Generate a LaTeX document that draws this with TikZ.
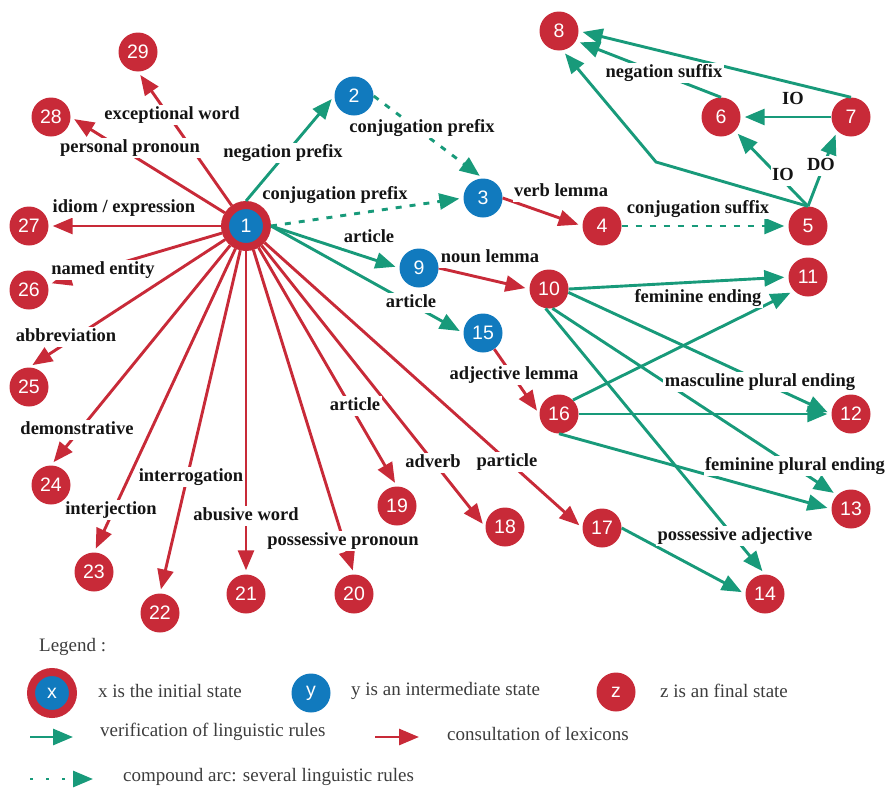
\documentclass[tikz,border=0pt]{standalone}
\usepackage{fontspec}
\setmainfont{Liberation Serif}
\newfontfamily\numfont{Liberation Sans}
\usetikzlibrary{arrows.meta}
\definecolor{cred}{RGB}{200,42,56}
\definecolor{cblue}{RGB}{17,122,190}
\definecolor{cgreen}{RGB}{24,154,122}
\definecolor{ctext}{RGB}{20,20,20}
\definecolor{clegend}{RGB}{60,60,60}
\begin{document}
\begin{tikzpicture}[x=1pt,y=-1pt,
  st/.style={circle, minimum size=39pt, inner sep=0pt, fill=cred, text=white,
             font=\numfont\fontsize{19.5}{19.5}\selectfont},
  inter/.style={st, fill=cblue},
  init/.style={circle, minimum size=42pt, inner sep=0pt, fill=cblue, draw=cred,
               line width=8pt, text=white, font=\numfont\fontsize{19.5}{19.5}\selectfont},
  tipA/.style={-{Triangle[length=20pt,width=16pt]}},
  lex/.style={draw=cred, line width=2.9pt, tipA, shorten >=4pt},
  rule/.style={draw=cgreen, line width=2.9pt, tipA, shorten >=4pt},
  comp/.style={rule, dash pattern=on 6pt off 8pt},
  lbl/.style={fill=white, inner sep=1.5pt, text=ctext, text height=13pt, text depth=4pt,
              font=\bfseries\fontsize{18.5}{22}\selectfont},
  leg/.style={anchor=west, inner sep=0pt, text=clegend, font=\fontsize{19}{22}\selectfont}
]
\useasboundingbox (0,0) rectangle (891,790);

% ---------- states ----------
\node[init]  (n1)  at (246,226) {1};
\node[inter] (n2)  at (354,96)  {2};
\node[inter] (n3)  at (483,198) {3};
\node[st]    (n4)  at (602,226) {4};
\node[st]    (n5)  at (808,226) {5};
\node[st]    (n6)  at (721,117) {6};
\node[st]    (n7)  at (851,117) {7};
\node[st]    (n8)  at (559,31)  {8};
\node[inter] (n9)  at (419,268) {9};
\node[st]    (n10) at (549,289) {10};
\node[st]    (n11) at (808,277) {11};
\node[st]    (n12) at (851,414) {12};
\node[st]    (n13) at (851,509) {13};
\node[st]    (n14) at (765,594) {14};
\node[inter] (n15) at (483,333) {15};
\node[st]    (n16) at (559,414) {16};
\node[st]    (n17) at (602,528) {17};
\node[st]    (n18) at (505,527) {18};
\node[st]    (n19) at (397,506) {19};
\node[st]    (n20) at (354,594) {20};
\node[st]    (n21) at (246,594) {21};
\node[st]    (n22) at (160,613) {22};
\node[st]    (n23) at (94,572)  {23};
\node[st]    (n24) at (51,485)  {24};
\node[st]    (n25) at (29,387)  {25};
\node[st]    (n26) at (29,290)  {26};
\node[st]    (n27) at (29,226)  {27};
\node[st]    (n28) at (51,117)  {28};
\node[st]    (n29) at (138,52)  {29};
\coordinate (b58) at (656,162);

% ---------- lexicon consultations from 1 ----------
\draw[lex] (n1) -- (n29.south);
\draw[lex] (n1) -- (n28.east);
\draw[lex] (n1) -- (n27);
\draw[lex] (n1) -- (n26);
\draw[lex] (n1) -- (n25.north);
\draw[lex] (n1) -- (n24.north);
\draw[lex] (n1) -- (n23.north);
\draw[lex] (n1) -- (n22.north);
\draw[lex] (n1) -- (n21);
\draw[lex] (n1) -- (n20.north);
\draw[lex] (n1) -- (n19.north);
\draw[lex] (n1) -- (n18.west);
\draw[lex] (n1) -- (n17.west);

% ---------- rules from 1 ----------
\draw[rule] (n1.north) -- (n2.west);
\draw[comp] (n1.east) -- (n3.west);
\draw[rule] (n1.east) -- (n9.west);
\draw[rule] (n1.east) -- (n15.west);

% ---------- verb branch ----------
\draw[comp] (n2.east) -- (n3.north);
\draw[lex]  (n3.east) -- (n4.west);
\draw[comp] (n4) -- (n5);
\draw[rule] (n5.north) -- (b58) -- (n8.-80);
\draw[rule] (n5.north) -- (n6.-45);
\draw[rule] (n5.north) -- (n7.-135);
\draw[rule] (n7) -- (n6);
\draw[rule] (n7.north) -- (n8.east);
\draw[rule] (n6.north) -- (n8.-30);

% ---------- noun / adjective branch ----------
\draw[lex]  (n9.east) -- (n10.west);
\draw[lex]  (n15.-55) -- (n16.west);
\draw[rule] (n10.east) -- (n11.west);
\draw[rule] (n10.-10) -- (n12.west);
\draw[rule] (n10.-80) -- (n13.135);
\draw[rule] (n10.-100) -- (n14.north);
\draw[rule] (n16.45) -- (n11.-135);
\draw[rule] (n16.east) -- (n12.west);
\draw[rule] (n16.south) -- (n13.west);
\draw[rule] (n17.east) -- (n14.west);

% ---------- labels ----------
\node[lbl] (l29) at (172,115) {exceptional word};
\node[lbl] (l28) at (130,148) {personal pronoun};
\node[lbl] (l27) at (124,208) {idiom / expression};
\node[lbl] (l26) at (103,270) {named entity};
\node[lbl] (l25) at (66,337)  {abbreviation};
\node[lbl] (l24) at (77,430)  {demonstrative};
\node[lbl] (l23) at (111,510) {interjection};
\node[lbl] (l22) at (191,477) {interrogation};
\node[lbl] (l21) at (246,516) {abusive word};
\node[lbl] (l20) at (343,541) {possessive pronoun};
\node[lbl] (l19) at (355,406) {article};
\node[lbl] (l18) at (433,463) {adverb};
\node[lbl] (l17) at (507,462) {particle};
\node[lbl] (l2)  at (283,153) {negation prefix};
\node[lbl] (l13) at (335,195) {conjugation prefix};
\node[lbl] (l9)  at (369,238) {article};
\node[lbl] (l15) at (411,303) {article};
\node[lbl] (l23b) at (422,128) {conjugation prefix};
\node[lbl] (l34) at (561,192) {verb lemma};
\node[lbl] (l45) at (698,209) {conjugation suffix};
\node[lbl] (l56) at (783,176) {IO};
\node[lbl] (l57) at (821,166) {DO};
\node[lbl] (l76) at (793,100) {IO};
\node[lbl] (l68) at (664,73)  {negation suffix};
\node[lbl] (l910) at (490,258) {noun lemma};
\node[lbl] (l1516) at (514,375) {adjective lemma};
\node[lbl] (l1011) at (698,298) {feminine ending};
\node[lbl] (l1012) at (760,382) {masculine plural ending};
\node[lbl] (l1013) at (795,466) {feminine plural ending};
\node[lbl] (l1014) at (735,536) {possessive adjective};

% ---------- legend ----------
\node[leg] (legt) at (39,647) {Legend :};
\node[init] (lgx) at (52,693) {x};
\node[leg] (lgxt) at (98,691) {x is the initial state};
\node[inter] (lgy) at (311,693) {y};
\node[leg] (lgyt) at (351,691) {y is an intermediate state};
\node[st] (lgz) at (616,692) {z};
\node[leg] (lgzt) at (660,691) {z is an final state};
\coordinate (ga) at (30,737);
\coordinate (gb) at (73,737);
\draw[draw=cgreen, line width=2.9pt, tipA] (ga) -- (gb);
\node[leg] (lgg) at (100,732) {verification of linguistic rules};
\coordinate (ra) at (375,737);
\coordinate (rb) at (419,737);
\draw[draw=cred, line width=2.9pt, tipA] (ra) -- (rb);
\node[leg] (lgr) at (447,734) {consultation of lexicons};
\coordinate (da) at (30,779);
\coordinate (db) at (93,779);
\draw[draw=cgreen, line width=2.9pt, tipA, dash pattern=on 3pt off 13pt] (da) -- (db);
\node[leg] (lgd) at (123,777) {compound arc: several linguistic rules};
\end{tikzpicture}
\end{document}
